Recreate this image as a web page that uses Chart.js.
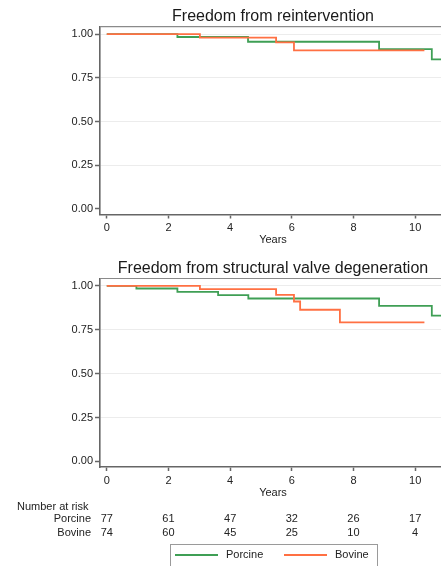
<!DOCTYPE html>
<html>
<head>
<meta charset="utf-8">
<script src="https://cdn.jsdelivr.net/npm/chart.js@4.4.1/dist/chart.umd.min.js"></script>
<style>
  html, body { margin: 0; padding: 0; background: #fff; overflow: hidden; }
  #wrap { position: relative; width: 441px; height: 566px; overflow: hidden; }
  canvas { position: absolute; left: 0; }
  #reint { top: 0; }
  #svd { top: 250px; }
</style>
</head>
<body>
<div id="wrap">
  <canvas id="reint" width="452" height="250"></canvas>
  <canvas id="svd" width="452" height="316"></canvas>
</div>
<script>
const groups = ['Porcine', 'Bovine'];
const groupColors = ['#3f9f55', '#ff7043'];
const yearTicks = [0, 2, 4, 6, 8, 10];
const survTicks = [0, 0.25, 0.5, 0.75, 1];

// freedom from reintervention (KM steps: year of event, survival after it)
const reintPorcineYears = [0, 2.29, 4.58, 8.83, 10.54, 11];
const reintPorcineSurv = [1, 0.983, 0.956, 0.914, 0.855, 0.855];
const reintBovineYears = [0, 3.02, 5.49, 6.07, 10.3];
const reintBovineSurv = [1, 0.979, 0.952, 0.907, 0.907];

// freedom from structural valve degeneration
const svdPorcineYears = [0, 0.96, 2.29, 3.61, 4.59, 8.83, 10.54, 11];
const svdPorcineSurv = [1, 0.985, 0.966, 0.947, 0.928, 0.886, 0.83, 0.83];
const svdBovineYears = [0, 3.02, 5.49, 6.07, 6.27, 7.56, 10.3];
const svdBovineSurv = [1, 0.981, 0.949, 0.911, 0.864, 0.792, 0.792];

// number at risk
const riskYears = [0, 2, 4, 6, 8, 10];
const riskPorcine = [77, 61, 47, 32, 26, 17];
const riskBovine = [74, 60, 45, 25, 10, 4];

const FONT = "'Liberation Sans', Arial, Helvetica, sans-serif";
Chart.defaults.font.family = FONT;
Chart.defaults.font.size = 11;
Chart.defaults.color = '#222';

function steps(years, surv) {
  return years.map((x, i) => ({ x: x, y: surv[i] }));
}

function kmDataset(i, years, surv) {
  return {
    label: groups[i],
    data: steps(years, surv),
    borderColor: groupColors[i],
    borderWidth: 1.8,
    stepped: 'before',
    pointRadius: 0,
    fill: false,
    order: i === 1 ? 0 : 1
  };
}

// thin line along the top of the plot region
const frameTop = {
  id: 'frameTop',
  beforeDatasetsDraw(chart) {
    const a = chart.chartArea, ctx = chart.ctx;
    ctx.save();
    ctx.strokeStyle = '#8a8a8a';
    ctx.lineWidth = 1.2;
    ctx.beginPath();
    ctx.moveTo(a.left, a.top);
    ctx.lineTo(a.right, a.top);
    ctx.stroke();
    ctx.restore();
  }
};

// number-at-risk table and legend box under the second plot
const riskTable = {
  id: 'riskTable',
  afterDraw(chart) {
    const ctx = chart.ctx, x = chart.scales.x;
    ctx.save();
    ctx.font = '11px ' + FONT;
    ctx.fillStyle = '#222';
    ctx.textBaseline = 'middle';
    ctx.textAlign = 'left';
    ctx.fillText('Number at risk', 17, 257);
    const rows = [riskPorcine, riskBovine];
    const rowY = [269, 283];
    rows.forEach((row, r) => {
      ctx.textAlign = 'right';
      ctx.fillText(groups[r], 91, rowY[r]);
      ctx.textAlign = 'center';
      row.forEach((n, i) => ctx.fillText(String(n), x.getPixelForValue(riskYears[i]), rowY[r]));
    });

    ctx.strokeStyle = '#9a9a9a';
    ctx.lineWidth = 1;
    ctx.strokeRect(170.5, 294.5, 207, 40);
    const itemX = [175, 284];
    chart.data.datasets.forEach((ds, i) => {
      ctx.strokeStyle = ds.borderColor;
      ctx.lineWidth = 2;
      ctx.beginPath();
      ctx.moveTo(itemX[i], 305);
      ctx.lineTo(itemX[i] + 43, 305);
      ctx.stroke();
      ctx.textAlign = 'left';
      ctx.fillText(ds.label, itemX[i] + 51, 305);
    });
    ctx.restore();
  }
};

function kmChart(id, title, datasets, cfg) {
  return new Chart(document.getElementById(id), {
    type: 'line',
    data: { datasets: datasets },
    options: {
      responsive: false,
      animation: false,
      layout: { padding: { left: 0, right: 6, top: 0, bottom: cfg.bottomPad } },
      plugins: {
        legend: { display: false },
        tooltip: { enabled: false },
        title: {
          display: true,
          text: title,
          fullSize: false,
          color: '#1a1a1a',
          font: { size: 16, weight: 'normal', lineHeight: 1.15 },
          padding: cfg.titlePad
        }
      },
      scales: {
        x: {
          type: 'linear',
          min: -0.22,
          max: 11,
          afterBuildTicks: s => { s.ticks = yearTicks.map(v => ({ value: v })); },
          afterFit: s => { s.height = cfg.xHeight; },
          grid: { drawOnChartArea: false, tickLength: 4, tickColor: '#666', tickWidth: 1.5 },
          border: { color: '#666', width: 1.6 },
          ticks: { padding: 3, maxRotation: 0, autoSkip: false, color: '#222' },
          title: { display: true, text: 'Years', color: '#222', font: { size: 11 }, padding: { top: 0, bottom: 3.4 } }
        },
        y: {
          type: 'linear',
          min: -0.032,
          max: 1.042,
          afterBuildTicks: s => { s.ticks = survTicks.map(v => ({ value: v })); },
          afterFit: s => { s.width = 100; },
          grid: {
            color: c => (c.tick && c.tick.value === 0) ? 'rgba(0,0,0,0)' : '#ececec',
            tickColor: '#666',
            tickLength: 5,
            tickWidth: 1.5
          },
          border: { color: '#666', width: 1.6 },
          ticks: { padding: 2, color: '#222', callback: v => v.toFixed(2) }
        }
      }
    },
    plugins: cfg.plugins
  });
}

kmChart('reint', 'Freedom from reintervention', [
  kmDataset(0, reintPorcineYears, reintPorcineSurv),
  kmDataset(1, reintBovineYears, reintBovineSurv)
], { bottomPad: 0, xHeight: 35.5, titlePad: { top: 7.5, bottom: 0.8 }, plugins: [frameTop] });

kmChart('svd', 'Freedom from structural valve degeneration', [
  kmDataset(0, svdPorcineYears, svdPorcineSurv),
  kmDataset(1, svdBovineYears, svdBovineSurv)
], { bottomPad: 63, xHeight: 36, titlePad: { top: 9.3, bottom: 0.8 }, plugins: [frameTop, riskTable] });
</script>
</body>
</html>
